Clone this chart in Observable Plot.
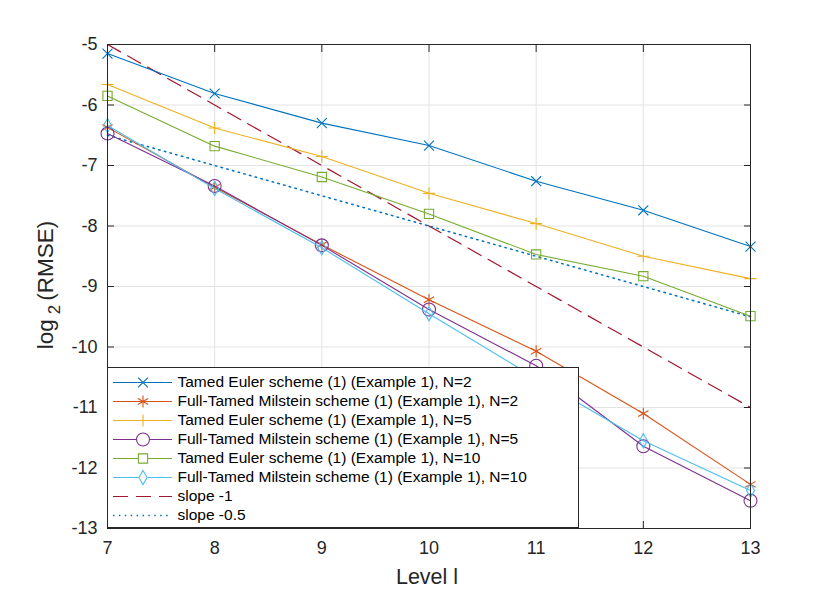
<!DOCTYPE html>
<html>
<head>
<meta charset="utf-8">
<script src="https://cdn.jsdelivr.net/npm/d3@7"></script>
<script src="https://cdn.jsdelivr.net/npm/@observablehq/plot@0.6"></script>
<style>
  html, body { margin: 0; padding: 0; background: #fff; }
  #wrap { position: relative; width: 830px; height: 594px; }
  #legend { position: absolute; left: 107px; top: 367px; }
</style>
</head>
<body>
<div id="wrap"></div>
<script>
// ---- data ----
const levels = [7, 8, 9, 10, 11, 12, 13];
const eulerN2  = [-5.15, -5.81, -6.30, -6.67, -7.26, -7.74, -8.34];
const milN2    = [-6.37, -7.36, -8.31, -9.22, -10.07, -11.10, -12.27];
const eulerN5  = [-5.66, -6.38, -6.85, -7.46, -7.96, -8.50, -8.87];
const milN5    = [-6.47, -7.34, -8.32, -9.38, -10.31, -11.64, -12.54];
const eulerN10 = [-5.85, -6.68, -7.19, -7.80, -8.47, -8.83, -9.49];
const milN10   = [-6.34, -7.38, -8.36, -9.45, -10.52, -11.55, -12.37];
const refLevels = [7, 13];
const slope1  = [-5, -11];
const slope05 = [-6.5, -9.5];
const xTicks = [7, 8, 9, 10, 11, 12, 13];
const yTicks = [-13, -12, -11, -10, -9, -8, -7, -6, -5];

const seriesNames = [
  "Tamed Euler scheme (1) (Example 1), N=2",
  "Full-Tamed Milstein scheme (1) (Example 1), N=2",
  "Tamed Euler scheme (1) (Example 1), N=5",
  "Full-Tamed Milstein scheme (1) (Example 1), N=5",
  "Tamed Euler scheme (1) (Example 1), N=10",
  "Full-Tamed Milstein scheme (1) (Example 1), N=10",
  "slope -1",
  "slope -0.5"
];
const seriesValues = [eulerN2, milN2, eulerN5, milN5, eulerN10, milN10];
const colors = ["#0072BD", "#D95319", "#EDB120", "#7E2F8E", "#77AC30", "#4DBEEE", "#A2142F", "#0072BD"];
const symbols = ["times", "asterisk", "plus", "circle", "square", "diamond"];
const symR = [4.6, 5.6, 4.0, 6.5, 5.2, 4.3];

const font = "'Liberation Sans', Arial, Helvetica, sans-serif";
const ink = "#262626";

const seriesData = seriesValues.map((vals, i) =>
  levels.map((l, j) => ({level: l, value: vals[j], i})));

const refData = (vals) => refLevels.map((l, j) => ({level: l, value: vals[j]}));

const marks = [
  Plot.gridX(xTicks, {stroke: "#e3e3e3", strokeOpacity: 1}),
  Plot.gridY(yTicks, {stroke: "#e3e3e3", strokeOpacity: 1}),
  Plot.line(refData(slope1), {x: "level", y: "value", stroke: colors[6], strokeWidth: 1.2, strokeDasharray: "15,8"}),
  Plot.line(refData(slope05), {x: "level", y: "value", stroke: colors[7], strokeWidth: 1.5, strokeDasharray: "1.5,4.4"})
];
seriesData.forEach((d, i) => {
  marks.push(Plot.line(d, {x: "level", y: "value", stroke: colors[i], strokeWidth: 1.1}));
  marks.push(Plot.dot(d, {x: "level", y: "value", symbol: () => symbols[i], r: symR[i], stroke: colors[i], fill: "none", strokeWidth: 1.1}));
});
marks.push(
  Plot.frame({stroke: ink, strokeWidth: 1}),
  Plot.axisX(xTicks, {anchor: "bottom", tickSize: 0, tickPadding: 13, fontSize: 18, fill: ink, label: null}),
  Plot.axisY(yTicks, {anchor: "left", tickSize: 0, tickPadding: 10, fontSize: 18, fill: ink, label: null, tickFormat: d => d < 0 ? "-" + Math.abs(d) : String(d)}),
  Plot.axisX(xTicks, {anchor: "bottom", tickSize: -7, text: null, stroke: ink, label: null}),
  Plot.axisX(xTicks, {anchor: "top", tickSize: -7, text: null, stroke: ink, label: null}),
  Plot.axisY(yTicks, {anchor: "left", tickSize: -7, text: null, stroke: ink, label: null}),
  Plot.axisY(yTicks, {anchor: "right", tickSize: -7, text: null, stroke: ink, label: null})
);

const chart = Plot.plot({
  width: 830,
  height: 594,
  marginLeft: 107,
  marginRight: 80,
  marginTop: 44,
  marginBottom: 66,
  x: {domain: [7, 13]},
  y: {domain: [-13, -5]},
  style: {fontFamily: font, background: "white", color: ink, overflow: "visible"},
  marks
});

const svg = d3.select(chart);
// x label
svg.append("text")
  .attr("x", 427).attr("y", 584)
  .attr("text-anchor", "middle")
  .attr("font-family", font).attr("font-size", 21.5).attr("fill", ink)
  .text("Level l");
// y label with subscript
const yl = svg.append("text")
  .attr("transform", "translate(53,285) rotate(-90)")
  .attr("text-anchor", "middle")
  .attr("font-family", font).attr("font-size", 22.5).attr("fill", ink);
yl.append("tspan").text("log");
yl.append("tspan").attr("dy", 7).attr("dx", 5).attr("font-size", 17).text("2");
yl.append("tspan").attr("dy", -7).attr("dx", 4).text("(RMSE)");

document.getElementById("wrap").appendChild(chart);

// ---- legend (drawn with Plot) ----
const legendRows = seriesNames.map((name, i) => ({name, i}));
const lmarks = [];
legendRows.forEach((row) => {
  const i = row.i;
  const opts = {y: "name", x1: 0, x2: 1, stroke: colors[i], strokeWidth: i === 7 ? 1.5 : 1.1};
  if (i === 6) opts.strokeDasharray = "15,8";
  if (i === 7) opts.strokeDasharray = "1.5,4.4";
  lmarks.push(Plot.ruleY([row], opts));
  if (i < 6) {
    lmarks.push(Plot.dot([row], {x: () => 0.5, y: "name", symbol: () => symbols[i], r: symR[i], stroke: colors[i], fill: "white", strokeWidth: 1.1}));
  }
});
lmarks.push(Plot.text(legendRows, {x: () => 1, y: "name", text: "name", dx: 5, textAnchor: "start", fontSize: 15.5, fill: "black"}));

const legend = Plot.plot({
  width: 472,
  height: 161,
  marginLeft: 6,
  marginRight: 407,
  marginTop: 12,
  marginBottom: 11,
  x: {domain: [0, 1], axis: null},
  y: {type: "point", domain: seriesNames, padding: 0, axis: null},
  style: {fontFamily: font, background: "transparent", overflow: "visible"},
  marks: lmarks
});
legend.id = "legend";
const lsvg = d3.select(legend);
lsvg.insert("rect", ":first-child")
  .attr("x", 0.5).attr("y", 0.5).attr("width", 471).attr("height", 160)
  .attr("fill", "white").attr("stroke", ink).attr("stroke-width", 1);
document.getElementById("wrap").appendChild(legend);
</script>
</body>
</html>
